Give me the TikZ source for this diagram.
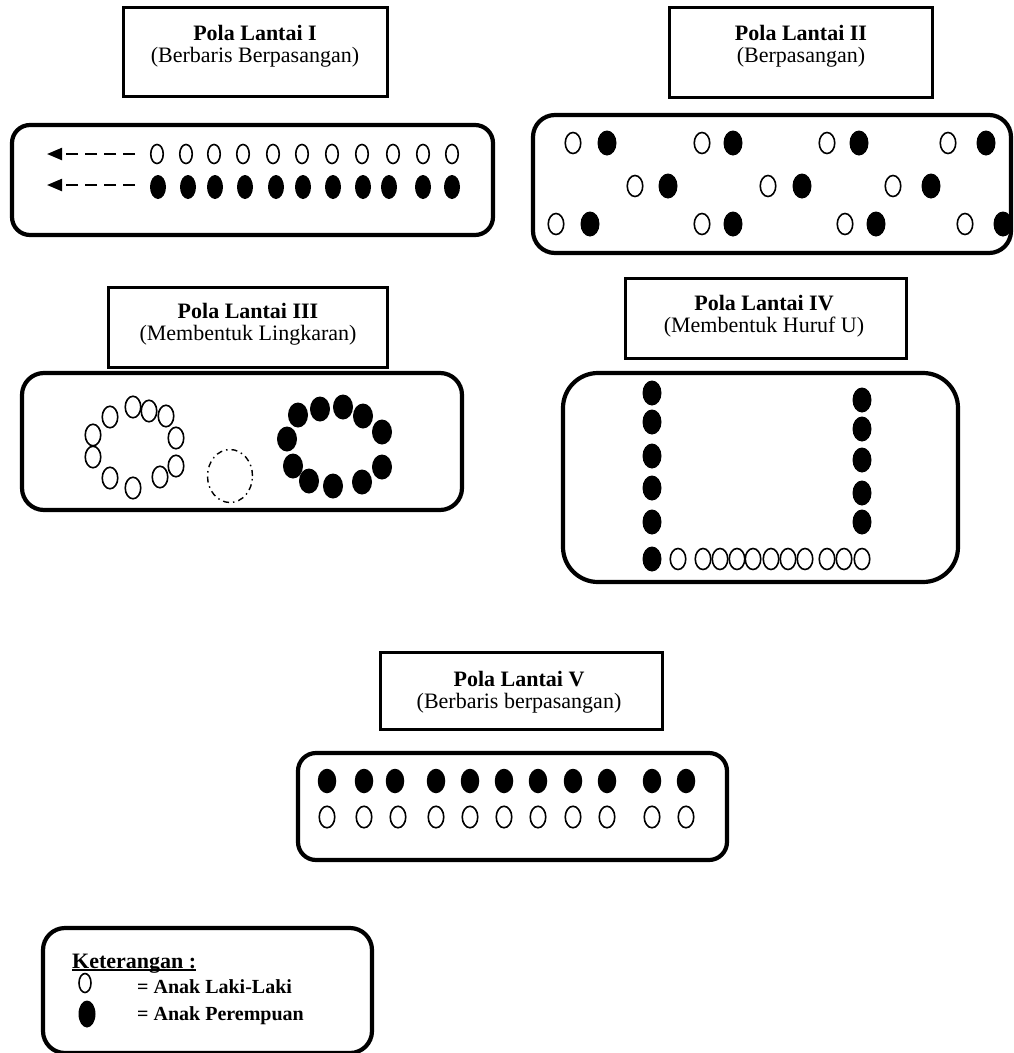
\documentclass[tikz,border=0pt]{standalone}
\usepackage{fontspec}
\setmainfont{Liberation Serif}
\usetikzlibrary{shapes.geometric,arrows.meta}
\newcommand\ulbold[1]{\setbox0\hbox{\textbf{#1}}\rlap{\rule[-2.5pt]{\wd0}{1.3pt}}\box0}
\tikzset{
  panel/.style={line width=4.2pt, rounded corners=#1},
  titlebox/.style={draw, line width=3pt, rectangle, inner sep=0pt},
  ttl/.style={anchor=base, inner sep=0pt, font=\fontsize{22pt}{24pt}\selectfont\bfseries},
  sub/.style={anchor=base, inner sep=0pt, font=\fontsize{22pt}{24pt}\selectfont},
  boy/.style 2 args={ellipse, draw, line width=1.6pt, fill=white, inner sep=0pt, minimum width=#1, minimum height=#2},
  girl/.style 2 args={ellipse, fill=black, inner sep=0pt, minimum width=#1, minimum height=#2},
  dasharrow/.style={line width=2.2pt, dash pattern=on 12pt off 7pt, -{Triangle[length=15pt,width=12pt]}},
  leg/.style={anchor=base west, inner sep=0pt, font=\fontsize{20pt}{22pt}\selectfont\bfseries}
}
\begin{document}
\begin{tikzpicture}[x=1pt,y=-1pt]
\useasboundingbox (0,0) rectangle (1014,1053);
\clip (0,0) rectangle (1014,1053);

% ---------- Title boxes ----------
\node[titlebox, minimum width=264pt, minimum height=89pt] (b1) at (255,52) {};
\node[ttl] (t1a) at (255,40) {Pola Lantai I};
\node[sub] (t1b) at (255,62) {(Berbaris Berpasangan)};

\node[titlebox, minimum width=263pt, minimum height=90pt] (b2) at (800.5,52) {};
\node[ttl] (t2a) at (801,40) {Pola Lantai II};
\node[sub] (t2b) at (801,62) {(Berpasangan)};

\node[titlebox, minimum width=279pt, minimum height=80pt] (b3) at (247.5,327) {};
\node[ttl] (t3a) at (248,318) {Pola Lantai III};
\node[sub] (t3b) at (248,340) {(Membentuk Lingkaran)};

\node[titlebox, minimum width=281pt, minimum height=80pt] (b4) at (765.5,318) {};
\node[ttl] (t4a) at (764,310) {Pola Lantai IV};
\node[sub] (t4b) at (764,332) {(Membentuk Huruf U)};

\node[titlebox, minimum width=282pt, minimum height=77pt] (b5) at (521,690.5) {};
\node[ttl] (t5a) at (519,686) {Pola Lantai V};
\node[sub] (t5b) at (519,708) {(Berbaris berpasangan)};

% ---------- Panel I ----------
\draw[panel=18pt] (12,125) rectangle (493,235);
\foreach \x [count=\i] in {157,186,214,243,273,302,332,362,393,423,452}
  \node[boy={12.5pt}{19pt}] (pa\i) at (\x,154) {};
\foreach \x [count=\i] in {158,188,215,245,276,303,333,363,389,423,452}
  \node[girl={16pt}{24pt}] (pb\i) at (\x,187) {};
\coordinate (a1s) at (135,154); \coordinate (a1e) at (47,154);
\coordinate (a2s) at (135,185); \coordinate (a2e) at (47,185);
\draw[dasharrow] (a1s) -- (a1e);
\draw[dasharrow] (a2s) -- (a2e);

% ---------- Panel II ----------
\draw[panel=22pt] (533,115) rectangle (1011,253);
\foreach \x/\y [count=\i] in {573/143,702/143,827/143,948/143,635/186,768/186,893/186,556/224,702/224,845/224,965/224}
  \node[boy={15.5pt}{21pt}] (qa\i) at (\x,\y) {};
\foreach \x/\y [count=\i] in {607/143,733/143,859/143,986/143,668/186,802/186,931/186,590/224,733/224,876/224,1003/224}
  \node[girl={19pt}{25pt}] (qb\i) at (\x,\y) {};

% ---------- Panel III ----------
\draw[panel=22pt] (22,373) rectangle (462,510);
\foreach \x/\y [count=\i] in {93/435,93/457,110/417,133/407,149/411,166/416,176/438,176/466,160/477,133/488,110/478}
  \node[boy={15.5pt}{21.5pt}] (ra\i) at (\x,\y) {};
\foreach \x/\y [count=\i] in {287/439,298/415,320/409,343/407,363/416,382/432,382/467,362/482,333/486,309/481,293/466}
  \node[girl={20pt}{25pt}] (rb\i) at (\x,\y) {};
\node[ellipse, draw, line width=1.4pt, inner sep=0pt, minimum width=45pt, minimum height=53pt,
      dash pattern=on 6pt off 4pt on 1.5pt off 4pt] (rc) at (230,476) {};

% ---------- Panel IV ----------
\draw[panel=35pt] (563,373) rectangle (958,582);
\foreach \y [count=\i] in {393,422,456,488,522,559}
  \node[girl={19pt}{25pt}] (sa\i) at (652,\y) {};
\foreach \y [count=\i] in {400,429,460,493,522}
  \node[girl={19pt}{25pt}] (sb\i) at (862,\y) {};
\foreach \x [count=\i] in {678,703,720,737,753,771,788,805,827,844,862}
  \node[boy={15.5pt}{21pt}] (sc\i) at (\x,559) {};

% ---------- Panel V ----------
\draw[panel=18pt] (298,753) rectangle (727,860);
\foreach \x [count=\i] in {327,364,395,436,470,504,538,573,607,652,686}
  \node[girl={18.5pt}{24.5pt}] (ta\i) at (\x,781) {};
\foreach \x [count=\i] in {327,364,398,436,470,504,538,573,607,652,686}
  \node[boy={15.5pt}{21.5pt}] (tb\i) at (\x,817) {};

% ---------- Legend ----------
\draw[panel=22pt] (43,928) rectangle (372,1053);
\node[anchor=base west, inner sep=0pt, font=\fontsize{22pt}{24pt}\selectfont] (k) at (72,968) {\ulbold{Keterangan :}};
\node[boy={12pt}{19pt}] (l1) at (85,983) {};
\node[leg] (l1t) at (137,993) {= Anak Laki-Laki};
\node[girl={17pt}{27pt}] (l2) at (87,1014) {};
\node[leg] (l2t) at (137,1020) {= Anak Perempuan};
\end{tikzpicture}
\end{document}
